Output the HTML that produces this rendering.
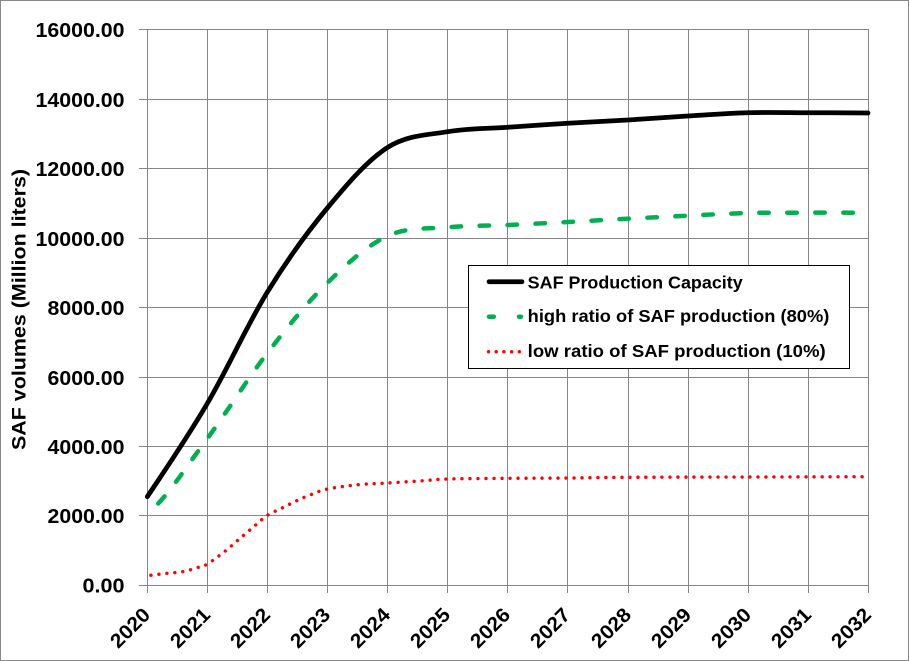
<!DOCTYPE html>
<html>
<head>
<meta charset="utf-8">
<style>
  html,body{margin:0;padding:0;background:#fff;}
  svg{display:block;}
  text{font-family:"Liberation Sans",Arial,sans-serif;font-weight:bold;fill:#000;}
</style>
</head>
<body>
<svg id="chart" width="910" height="661" viewBox="0 0 910 661" xmlns="http://www.w3.org/2000/svg">
  <rect x="0" y="0" width="910" height="661" fill="#fff"/>
  <rect x="0.5" y="0.5" width="908" height="660" fill="none" stroke="#898989" stroke-width="1"/>

  <!-- gridlines -->
  <g stroke="#868686" stroke-width="1" fill="none" shape-rendering="crispEdges">
    <line x1="139" y1="29.5" x2="868" y2="29.5"/>
    <line x1="139" y1="99.5" x2="868" y2="99.5"/>
    <line x1="139" y1="168.5" x2="868" y2="168.5"/>
    <line x1="139" y1="238.5" x2="868" y2="238.5"/>
    <line x1="139" y1="307.5" x2="868" y2="307.5"/>
    <line x1="139" y1="377.5" x2="868" y2="377.5"/>
    <line x1="139" y1="446.5" x2="868" y2="446.5"/>
    <line x1="139" y1="515.5" x2="868" y2="515.5"/>
    <line x1="139" y1="585.5" x2="869" y2="585.5"/>

    <line x1="147.5" y1="29" x2="147.5" y2="593"/>
    <line x1="207.5" y1="29" x2="207.5" y2="593"/>
    <line x1="267.5" y1="29" x2="267.5" y2="593"/>
    <line x1="327.5" y1="29" x2="327.5" y2="593"/>
    <line x1="387.5" y1="29" x2="387.5" y2="593"/>
    <line x1="447.5" y1="29" x2="447.5" y2="593"/>
    <line x1="507.5" y1="29" x2="507.5" y2="593"/>
    <line x1="567.5" y1="29" x2="567.5" y2="593"/>
    <line x1="628.5" y1="29" x2="628.5" y2="593"/>
    <line x1="688.5" y1="29" x2="688.5" y2="593"/>
    <line x1="748.5" y1="29" x2="748.5" y2="593"/>
    <line x1="808.5" y1="29" x2="808.5" y2="593"/>
    <line x1="868.5" y1="29" x2="868.5" y2="593"/>
  </g>

  <!-- y tick labels -->
  <g font-size="20" text-anchor="end">
    <text x="124.5" y="36.8" textLength="89" lengthAdjust="spacingAndGlyphs">16000.00</text>
    <text x="124.5" y="106.8" textLength="89" lengthAdjust="spacingAndGlyphs">14000.00</text>
    <text x="124.5" y="175.8" textLength="89" lengthAdjust="spacingAndGlyphs">12000.00</text>
    <text x="124.5" y="245.8" textLength="89" lengthAdjust="spacingAndGlyphs">10000.00</text>
    <text x="124.5" y="314.8" textLength="77" lengthAdjust="spacingAndGlyphs">8000.00</text>
    <text x="124.5" y="384.8" textLength="77" lengthAdjust="spacingAndGlyphs">6000.00</text>
    <text x="124.5" y="453.8" textLength="77" lengthAdjust="spacingAndGlyphs">4000.00</text>
    <text x="124.5" y="522.8" textLength="77" lengthAdjust="spacingAndGlyphs">2000.00</text>
    <text x="124.5" y="592.5" textLength="42" lengthAdjust="spacingAndGlyphs">0.00</text>
  </g>

  <!-- x tick labels -->
  <g font-size="20" text-anchor="end">
    <text transform="translate(151.5,616) rotate(-45)" textLength="47" lengthAdjust="spacingAndGlyphs">2020</text>
    <text transform="translate(211.5,616) rotate(-45)" textLength="47" lengthAdjust="spacingAndGlyphs">2021</text>
    <text transform="translate(271.5,616) rotate(-45)" textLength="47" lengthAdjust="spacingAndGlyphs">2022</text>
    <text transform="translate(331.5,616) rotate(-45)" textLength="47" lengthAdjust="spacingAndGlyphs">2023</text>
    <text transform="translate(391.5,616) rotate(-45)" textLength="47" lengthAdjust="spacingAndGlyphs">2024</text>
    <text transform="translate(451.5,616) rotate(-45)" textLength="47" lengthAdjust="spacingAndGlyphs">2025</text>
    <text transform="translate(511.5,616) rotate(-45)" textLength="47" lengthAdjust="spacingAndGlyphs">2026</text>
    <text transform="translate(571.5,616) rotate(-45)" textLength="47" lengthAdjust="spacingAndGlyphs">2027</text>
    <text transform="translate(632.5,616) rotate(-45)" textLength="47" lengthAdjust="spacingAndGlyphs">2028</text>
    <text transform="translate(692.5,616) rotate(-45)" textLength="47" lengthAdjust="spacingAndGlyphs">2029</text>
    <text transform="translate(752.5,616) rotate(-45)" textLength="47" lengthAdjust="spacingAndGlyphs">2030</text>
    <text transform="translate(812.5,616) rotate(-45)" textLength="47" lengthAdjust="spacingAndGlyphs">2031</text>
    <text transform="translate(872.5,616) rotate(-45)" textLength="47" lengthAdjust="spacingAndGlyphs">2032</text>
  </g>

  <!-- y axis title -->
  <text font-size="19.5" text-anchor="middle" transform="translate(25.3,309.5) rotate(-90)" textLength="281" lengthAdjust="spacingAndGlyphs">SAF volumes (Million liters)</text>

  <!-- series -->
  <path id="sBlack" d="" fill="none" stroke="#000" stroke-width="4.75" stroke-linejoin="round" stroke-linecap="round"/>
  <path id="sGreen" d="" fill="none" stroke="#00b050" stroke-width="4.5" stroke-linecap="round" stroke-linejoin="round" stroke-dasharray="9.5 18.5" stroke-dashoffset="12.75"/>
  <path id="sRed" d="" fill="none" stroke="#ff0000" stroke-width="3.4" stroke-linecap="round" stroke-dasharray="0.01 7.99" stroke-dashoffset="4.3"/>

  <!-- legend -->
  <rect x="468.5" y="265.5" width="381" height="103" fill="#fff" stroke="#000" stroke-width="1"/>
  <line x1="489" y1="281.7" x2="522" y2="281.7" stroke="#000" stroke-width="4.75" stroke-linecap="round"/>
  <g stroke="#00b050" stroke-width="4.5" stroke-linecap="round">
    <line x1="489" y1="316.7" x2="493.8" y2="316.7"/>
    <line x1="519" y1="316.7" x2="521" y2="316.7"/>
  </g>
  <g fill="#ff0000">
    <circle cx="488.5" cy="351.7" r="1.7"/>
    <circle cx="496.2" cy="351.7" r="1.7"/>
    <circle cx="503.9" cy="351.7" r="1.7"/>
    <circle cx="511.6" cy="351.7" r="1.7"/>
    <circle cx="519.3" cy="351.7" r="1.7"/>
  </g>
  <g font-size="17.5">
    <text x="527.7" y="288.4" textLength="215" lengthAdjust="spacingAndGlyphs">SAF Production Capacity</text>
    <text x="527.7" y="322.2" textLength="301.6" lengthAdjust="spacingAndGlyphs">high ratio of SAF production (80%)</text>
    <text x="527.7" y="356.8" textLength="298" lengthAdjust="spacingAndGlyphs">low ratio of SAF production (10%)</text>
  </g>
</svg>
<script>
(function(){
  // pts[0] is a phantom point used only for the starting tangent
  function crp(pts){
    var n=pts.length, d="M"+pts[1][0]+","+pts[1][1];
    for(var i=1;i<n-1;i++){
      var p0=pts[i-1], p1=pts[i], p2=pts[i+1], p3=pts[Math.min(i+2,n-1)];
      var c1x=p1[0]+(p2[0]-p0[0])/6, c1y=p1[1]+(p2[1]-p0[1])/6;
      var c2x=p2[0]-(p3[0]-p1[0])/6, c2y=p2[1]-(p3[1]-p1[1])/6;
      d+=" C"+c1x.toFixed(2)+","+c1y.toFixed(2)+" "+c2x.toFixed(2)+","+c2y.toFixed(2)+" "+p2[0]+","+p2[1];
    }
    return d;
  }
  var black=[[87.2,583.3],[147.3,496.7],[207.4,403.3],[267.4,292],[327.5,207.8],[387.5,147.5],[447.6,131.7],[507.7,127.3],[567.7,123.3],[627.8,120],[687.8,116],[747.9,112.7],[807.9,112.7],[868,113]];
  var green=[[87.2,537.7],[147.3,514],[207.4,438.3],[267.4,353],[327.5,282.7],[387.5,236],[447.6,227.3],[507.7,225],[567.7,222],[627.8,218.7],[687.8,215.7],[747.9,213],[807.9,212.7],[868,212.7]];
  var red=[[147.3,575.7],[147.3,575.7],[166.7,573.3],[182.7,571.7],[198.3,567.3],[207.4,564],[225.3,551],[237.3,540.7],[255.7,525],[267.4,515.3],[282.7,507.7],[296.7,500.7],[311.7,494.3],[327.5,489],[358.3,484.7],[387.5,483],[423.3,480.7],[447.6,479],[507.7,478.3],[567.7,478],[627.8,477.3],[747.9,477],[868,476.7]];
  document.getElementById("sBlack").setAttribute("d",crp(black));
  document.getElementById("sGreen").setAttribute("d",crp(green));
  document.getElementById("sRed").setAttribute("d",crp(red));
})();
</script>
</body>
</html>
